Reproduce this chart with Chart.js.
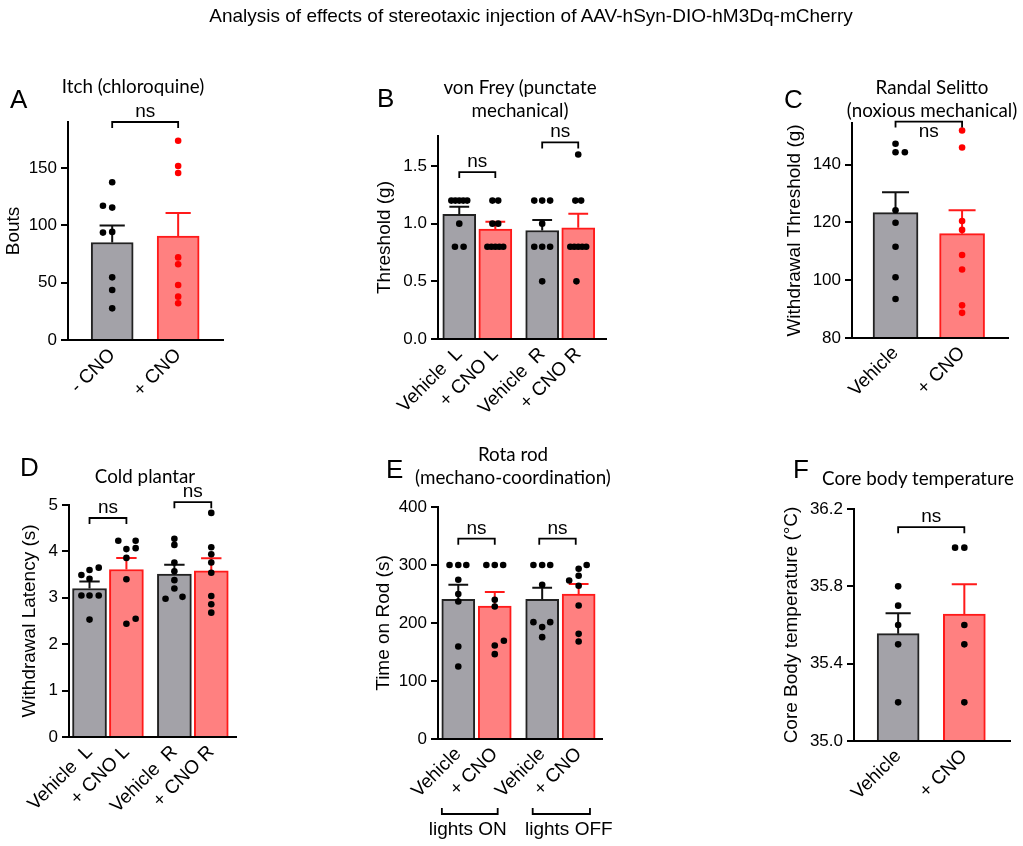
<!DOCTYPE html>
<html lang="en">
<head>
<meta charset="UTF-8">
<title>AAV-hSyn-DIO-hM3Dq-mCherry behaviour</title>
<script src="https://cdn.jsdelivr.net/npm/chart.js@4"></script>
<style>
  body { margin: 0; background: #fff; font-family: "Liberation Sans", Arial, Helvetica, sans-serif; color: #000; }
  #page { position: relative; width: 1023px; height: 846px; overflow: hidden; }
  .layer { position: absolute; left: 0; top: 0; width: 1023px; height: 846px; }
  .txt { position: absolute; white-space: nowrap; transform: translate(-50%, -50%); }
  .main { font-size: 19px; }
  .ptitle { font-family: Lato, "Noto Sans", sans-serif; font-size: 18.8px; line-height: 23px; text-align: center; }
  .letter { position: absolute; font-size: 26px; line-height: 26px; }
</style>
</head>
<body>
<div id="page">
  <div class="layer"><canvas id="chartA"></canvas></div>
  <div class="layer"><canvas id="chartB"></canvas></div>
  <div class="layer"><canvas id="chartC"></canvas></div>
  <div class="layer"><canvas id="chartD"></canvas></div>
  <div class="layer"><canvas id="chartE"></canvas></div>
  <div class="layer"><canvas id="chartF"></canvas></div>

  <div class="txt main" style="left:531px; top:16px;">Analysis of effects of stereotaxic injection of AAV-hSyn-DIO-hM3Dq-mCherry</div>

  <div class="letter" style="left:10px; top:86px;">A</div>
  <div class="letter" style="left:377px; top:85px;">B</div>
  <div class="letter" style="left:784px; top:86px;">C</div>
  <div class="letter" style="left:20px; top:454px;">D</div>
  <div class="letter" style="left:386px; top:456px;">E</div>
  <div class="letter" style="left:793px; top:456px;">F</div>

  <div class="txt ptitle" style="left:133px; top:85px;">Itch (chloroquine)</div>
  <div class="txt ptitle" style="left:520px; top:98px;">von Frey (punctate<br>mechanical)</div>
  <div class="txt ptitle" style="left:932px; top:98px;">Randal Selitto<br>(noxious mechanical)</div>
  <div class="txt ptitle" style="left:145px; top:475px;">Cold plantar</div>
  <div class="txt ptitle" style="left:513px; top:465px;">Rota rod<br>(mechano-coordination)</div>
  <div class="txt ptitle" style="left:918px; top:477px;">Core body temperature</div>
</div>

<script>
// ---------- data ----------
// A: itch
const aLabels = ['- CNO', '+ CNO'];
const aMeans = [85, 90.5];
const aSem = [14.7, 20.2];
const aVeh = [137.5, 117, 115.4, 94.2, 93.6, 54.6, 43.6, 27.6];
const aVehJit = [0, -0.14, 0, 0, -0.14, 0, 0, 0];
const aCno = [173.7, 151.7, 145.6, 72, 66, 48, 37.8, 32];
const aCnoJit = [0, 0, 0, 0, 0, 0, 0, 0];
const aTicks = [0, 50, 100, 150];

// B: von Frey
const bLabels = ['Vehicle  L', '+ CNO L', 'Vehicle  R', '+ CNO R'];
const bMeans = [1.08, 0.953, 0.941, 0.964];
const bSem = [0.066, 0.063, 0.09, 0.122];
const bVehL = [1.2, 1.2, 1.2, 1.2, 1.2, 1.0, 0.8, 0.8];
const bVehLJit = [-0.22, -0.11, 0, 0.11, 0.22, 0, -0.12, 0.12];
const bCnoL = [1.2, 1.2, 1.0, 1.0, 0.8, 0.8, 0.8, 0.8, 0.8];
const bCnoLJit = [-0.08, 0.08, -0.08, 0.08, -0.22, -0.11, 0, 0.11, 0.22];
const bVehR = [1.2, 1.2, 1.2, 1.0, 0.8, 0.8, 0.8, 0.5];
const bVehRJit = [-0.22, 0, 0.22, 0, -0.22, 0, 0.22, 0];
const bCnoR = [1.6, 1.2, 1.2, 0.8, 0.8, 0.8, 0.8, 0.8, 0.5];
const bCnoRJit = [0, -0.08, 0.08, -0.22, -0.11, 0, 0.11, 0.22, -0.05];
const bTicks = [0, 0.5, 1.0, 1.5];

// C: Randal Selitto
const cLabels = ['Vehicle', '+ CNO'];
const cMeans = [123.4, 116.1];
const cSem = [7.0, 8.1];
const cVeh = [147.2, 144.3, 144.3, 124.2, 119.9, 111.6, 101, 93.5];
const cVehJit = [0, 0, 0.14, 0, 0, 0, 0, 0];
const cCno = [151.8, 145.9, 120.5, 117.4, 108.7, 103.7, 91.3, 88.7];
const cCnoJit = [0, 0, 0, 0, 0, 0, 0, 0];
const cTicks = [80, 100, 120, 140];

// D: cold plantar
const dLabels = ['Vehicle  L', '+ CNO L', 'Vehicle  R', '+ CNO R'];
const dMeans = [3.20, 3.61, 3.51, 3.58];
const dSem = [0.15, 0.25, 0.20, 0.27];
const dVehL = [3.65, 3.60, 3.49, 3.41, 3.05, 3.05, 3.05, 2.53];
const dVehLJit = [0.25, 0, -0.22, 0, -0.22, 0, 0.25, 0];
const dCnoL = [4.23, 4.23, 4.07, 4.05, 3.86, 3.40, 2.55, 2.44];
const dCnoLJit = [-0.22, 0.25, 0.25, 0, 0, 0, 0.25, 0];
const dVehR = [4.27, 4.14, 3.76, 3.57, 3.38, 3.20, 3.02, 2.98];
const dVehRJit = [0, 0, 0, 0, 0, 0, 0.22, -0.24];
const dCnoR = [4.83, 4.09, 3.94, 3.76, 3.54, 3.04, 2.86, 2.68];
const dCnoRJit = [0, 0, 0, 0, 0, 0, 0, 0];
const dTicks = [0, 1, 2, 3, 4, 5];

// E: rota rod
const eLabels = ['Vehicle', '+ CNO', 'Vehicle', '+ CNO'];
const eMeans = [240.6, 229.2, 240.6, 249.9];
const eSem = [25.4, 24.2, 20.2, 17.3];
const eVehOn = [300, 300, 300, 274.6, 249.9, 237.1, 159.4, 124.9];
const eVehOnJit = [-0.24, 0, 0.22, 0, 0, 0, 0, 0];
const eCnoOn = [300, 300, 300, 240, 228.5, 169.3, 161.2, 146.3];
const eCnoOnJit = [-0.23, 0, 0.23, 0, 0, 0.25, 0, 0];
const eVehOff = [300, 300, 300, 266, 201.5, 201.5, 192.9, 175.6];
const eVehOffJit = [-0.24, 0, 0.22, 0, -0.24, 0.22, 0, 0];
const eCnoOff = [300, 293.6, 281.5, 273.4, 264.2, 230.2, 181.3, 168];
const eCnoOffJit = [0.22, 0, 0, -0.26, 0, 0, 0, 0];
const eTicks = [0, 100, 200, 300, 400];
const eGroups = ['lights ON', 'lights OFF'];

// F: core body temperature
const fLabels = ['Vehicle', '+ CNO'];
const fMeans = [35.555, 35.657];
const fSem = [0.106, 0.154];
const fVeh = [35.8, 35.7, 35.6, 35.5, 35.2];
const fVehJit = [0, 0, 0, 0, 0];
const fCno = [36.0, 36.0, 35.6, 35.5, 35.2];
const fCnoJit = [-0.14, 0, 0, 0, 0];
const fTicks = [35.0, 35.4, 35.8, 36.2];

// ---------- styling ----------
const GREY = '#a3a2a8', GREY_EDGE = '#222222';
const PINK = '#ff8080', RED = '#ff1a1a';
const FONT = '"Liberation Sans", Arial, Helvetica, sans-serif';
Chart.defaults.font.family = FONT;
Chart.defaults.color = '#000';

const two = [0, 1];
const four = [0, 1, 2.3, 3.3];

// error bars + significance brackets (+ group brackets under E)
function extras(p) {
  return {
    id: 'extras',
    afterDatasetDraw(chart, args) {
      if (args.index !== 0) return;
      const ctx = chart.ctx, y = chart.scales.y;
      args.meta.data.forEach((bar, i) => {
        const top = y.getPixelForValue(p.means[i] + p.sem[i]);
        const cap = bar.width * 0.3;
        ctx.save();
        ctx.strokeStyle = i % 2 ? RED : '#111';
        ctx.lineWidth = 2;
        ctx.beginPath();
        ctx.moveTo(bar.x, bar.y);
        ctx.lineTo(bar.x, top);
        ctx.moveTo(bar.x - cap, top);
        ctx.lineTo(bar.x + cap, top);
        ctx.stroke();
        ctx.restore();
      });
    },
    afterDraw(chart) {
      const {ctx, chartArea} = chart;
      const x = chart.scales.x, y = chart.scales.y;
      ctx.save();
      ctx.strokeStyle = '#000';
      ctx.fillStyle = '#000';
      ctx.lineWidth = 1.8;
      ctx.textAlign = 'center';
      ctx.textBaseline = 'alphabetic';
      ctx.font = '19px ' + FONT;
      p.brackets.forEach(b => {
        const x1 = x.getPixelForValue(b[0]), x2 = x.getPixelForValue(b[1]);
        const yy = y.getPixelForValue(b[2]);
        ctx.beginPath();
        ctx.moveTo(x1, yy + 6);
        ctx.lineTo(x1, yy);
        ctx.lineTo(x2, yy);
        ctx.lineTo(x2, yy + 6);
        ctx.stroke();
        ctx.fillText('ns', (x1 + x2) / 2, b[3] ? yy + 15 : yy - 5);
      });
      if (p.groups) {
        p.groups.forEach(g => {
          const x1 = x.getPixelForValue(g[1]), x2 = x.getPixelForValue(g[2]);
          const yy = chartArea.bottom + 75;
          ctx.beginPath();
          ctx.moveTo(x1, yy - 6);
          ctx.lineTo(x1, yy);
          ctx.lineTo(x2, yy);
          ctx.lineTo(x2, yy - 6);
          ctx.stroke();
          ctx.fillText(g[0], x.getPixelForValue(g[3]), yy + 21);
        });
      }
      ctx.restore();
    }
  };
}

function panel(id, p) {
  const datasets = [{
    type: 'bar',
    data: p.pos.map((x, i) => ({x: x, y: p.means[i]})),
    backgroundColor: p.pos.map((_, i) => i % 2 ? PINK : GREY),
    borderColor: p.pos.map((_, i) => i % 2 ? RED : GREY_EDGE),
    borderWidth: 2,
    barThickness: p.barW,
    base: p.yMin,
    order: 2
  }];
  p.dots.forEach((vals, i) => {
    datasets.push({
      type: 'scatter',
      data: vals.map((v, k) => ({x: p.pos[i] + p.jit[i][k], y: v})),
      backgroundColor: p.dotColors[i],
      borderWidth: 0,
      pointRadius: 3.3,
      order: 1
    });
  });
  const box = p.box;
  return new Chart(document.getElementById(id), {
    type: 'bar',
    data: {datasets: datasets},
    plugins: [extras(p)],
    options: {
      responsive: true,
      maintainAspectRatio: false,
      animation: false,
      events: [],
      layout: {padding: {left: box.L - box.yW, top: box.T, right: 1023 - box.R, bottom: 846 - box.B - 80}},
      plugins: {legend: {display: false}, tooltip: {enabled: false}},
      scales: {
        x: {
          type: 'linear',
          min: p.xMin, max: p.xMax,
          offset: false,
          grid: {display: false, drawTicks: false, offset: false},
          border: {display: true, color: '#000', width: 2},
          afterBuildTicks: s => { s.ticks = p.pos.map(v => ({value: v})); },
          afterFit: s => { s.height = 80; },
          ticks: {
            autoSkip: false, minRotation: 45, maxRotation: 45, padding: 4,
            font: {size: 19},
            callback: (v, i) => p.labels[i]
          }
        },
        y: {
          min: p.yMin, max: p.yMax,
          afterBuildTicks: s => { s.ticks = p.yTicks.map(v => ({value: v})); },
          afterFit: s => { s.width = box.yW; },
          grid: {display: true, drawOnChartArea: false, drawTicks: true, tickLength: 7, color: '#000', lineWidth: 2},
          border: {display: true, color: '#000', width: 2},
          ticks: {padding: 4, font: {size: 17}, callback: v => v.toFixed(p.dec)},
          title: {display: true, text: p.yTitle, font: {size: 19}, padding: 0}
        }
      }
    }
  });
}

const K = '#000';

panel('chartA', {
  labels: aLabels, pos: two, means: aMeans, sem: aSem,
  dots: [aVeh, aCno], jit: [aVehJit, aCnoJit], dotColors: [K, '#ff0000'],
  yTicks: aTicks, yMin: 0, yMax: 190, dec: 0, yTitle: 'Bouts',
  xMin: -0.67, xMax: 1.68, barW: 42,
  box: {L: 68, R: 223, T: 122, B: 340, yW: 65.5},
  brackets: [[0, 1, 190]]
});

panel('chartB', {
  labels: bLabels, pos: four, means: bMeans, sem: bSem,
  dots: [bVehL, bCnoL, bVehR, bCnoR], jit: [bVehLJit, bCnoLJit, bVehRJit, bCnoRJit], dotColors: [K, K, K, K],
  yTicks: bTicks, yMin: 0, yMax: 1.76, dec: 1, yTitle: 'Threshold (g)',
  xMin: -0.59, xMax: 4.07, barW: 33,
  box: {L: 438, R: 606, T: 136, B: 339, yW: 64.5},
  brackets: [[0, 1, 1.447], [2.3, 3.3, 1.704]]
});

panel('chartC', {
  labels: cLabels, pos: two, means: cMeans, sem: cSem,
  dots: [cVeh, cCno], jit: [cVehJit, cCnoJit], dotColors: [K, '#ff0000'],
  yTicks: cTicks, yMin: 80, yMax: 154.4, dec: 0, yTitle: 'Withdrawal Threshold (g)',
  xMin: -0.654, xMax: 1.69, barW: 45,
  box: {L: 852, R: 1008, T: 123, B: 338, yW: 68.5},
  brackets: [[0, 1, 154.9, true]]
});

panel('chartD', {
  labels: dLabels, pos: four, means: dMeans, sem: dSem,
  dots: [dVehL, dCnoL, dVehR, dCnoR], jit: [dVehLJit, dCnoLJit, dVehRJit, dCnoRJit], dotColors: [K, K, K, K],
  yTicks: dTicks, yMin: 0, yMax: 5, dec: 0, yTitle: 'Withdrawal Latency (s)',
  xMin: -0.556, xMax: 3.97, barW: 34,
  box: {L: 69, R: 236, T: 505, B: 737, yW: 50.5},
  brackets: [[0, 1, 4.72], [2.3, 3.3, 5.06]]
});

panel('chartE', {
  labels: eLabels, pos: four, means: eMeans, sem: eSem,
  dots: [eVehOn, eCnoOn, eVehOff, eCnoOff], jit: [eVehOnJit, eCnoOnJit, eVehOffJit, eCnoOffJit], dotColors: [K, K, K, K],
  yTicks: eTicks, yMin: 0, yMax: 400, dec: 0, yTitle: 'Time on Rod (s)',
  xMin: -0.556, xMax: 3.94, barW: 33,
  box: {L: 438, R: 602, T: 507, B: 739, yW: 65.5},
  brackets: [[0, 1, 345.4], [2.22, 3.22, 345.4]],
  groups: [[eGroups[0], -0.45, 1.08, 0.26], [eGroups[1], 2.04, 3.61, 3.03]]
});

panel('chartF', {
  labels: fLabels, pos: two, means: fMeans, sem: fSem,
  dots: [fVeh, fCno], jit: [fVehJit, fCnoJit], dotColors: [K, K],
  yTicks: fTicks, yMin: 35, yMax: 36.2, dec: 1, yTitle: 'Core Body temperature (°C)',
  xMin: -0.667, xMax: 1.69, barW: 42,
  box: {L: 854, R: 1010, T: 509, B: 741, yW: 73.5},
  brackets: [[0, 1, 36.106]]
});
</script>
</body>
</html>
